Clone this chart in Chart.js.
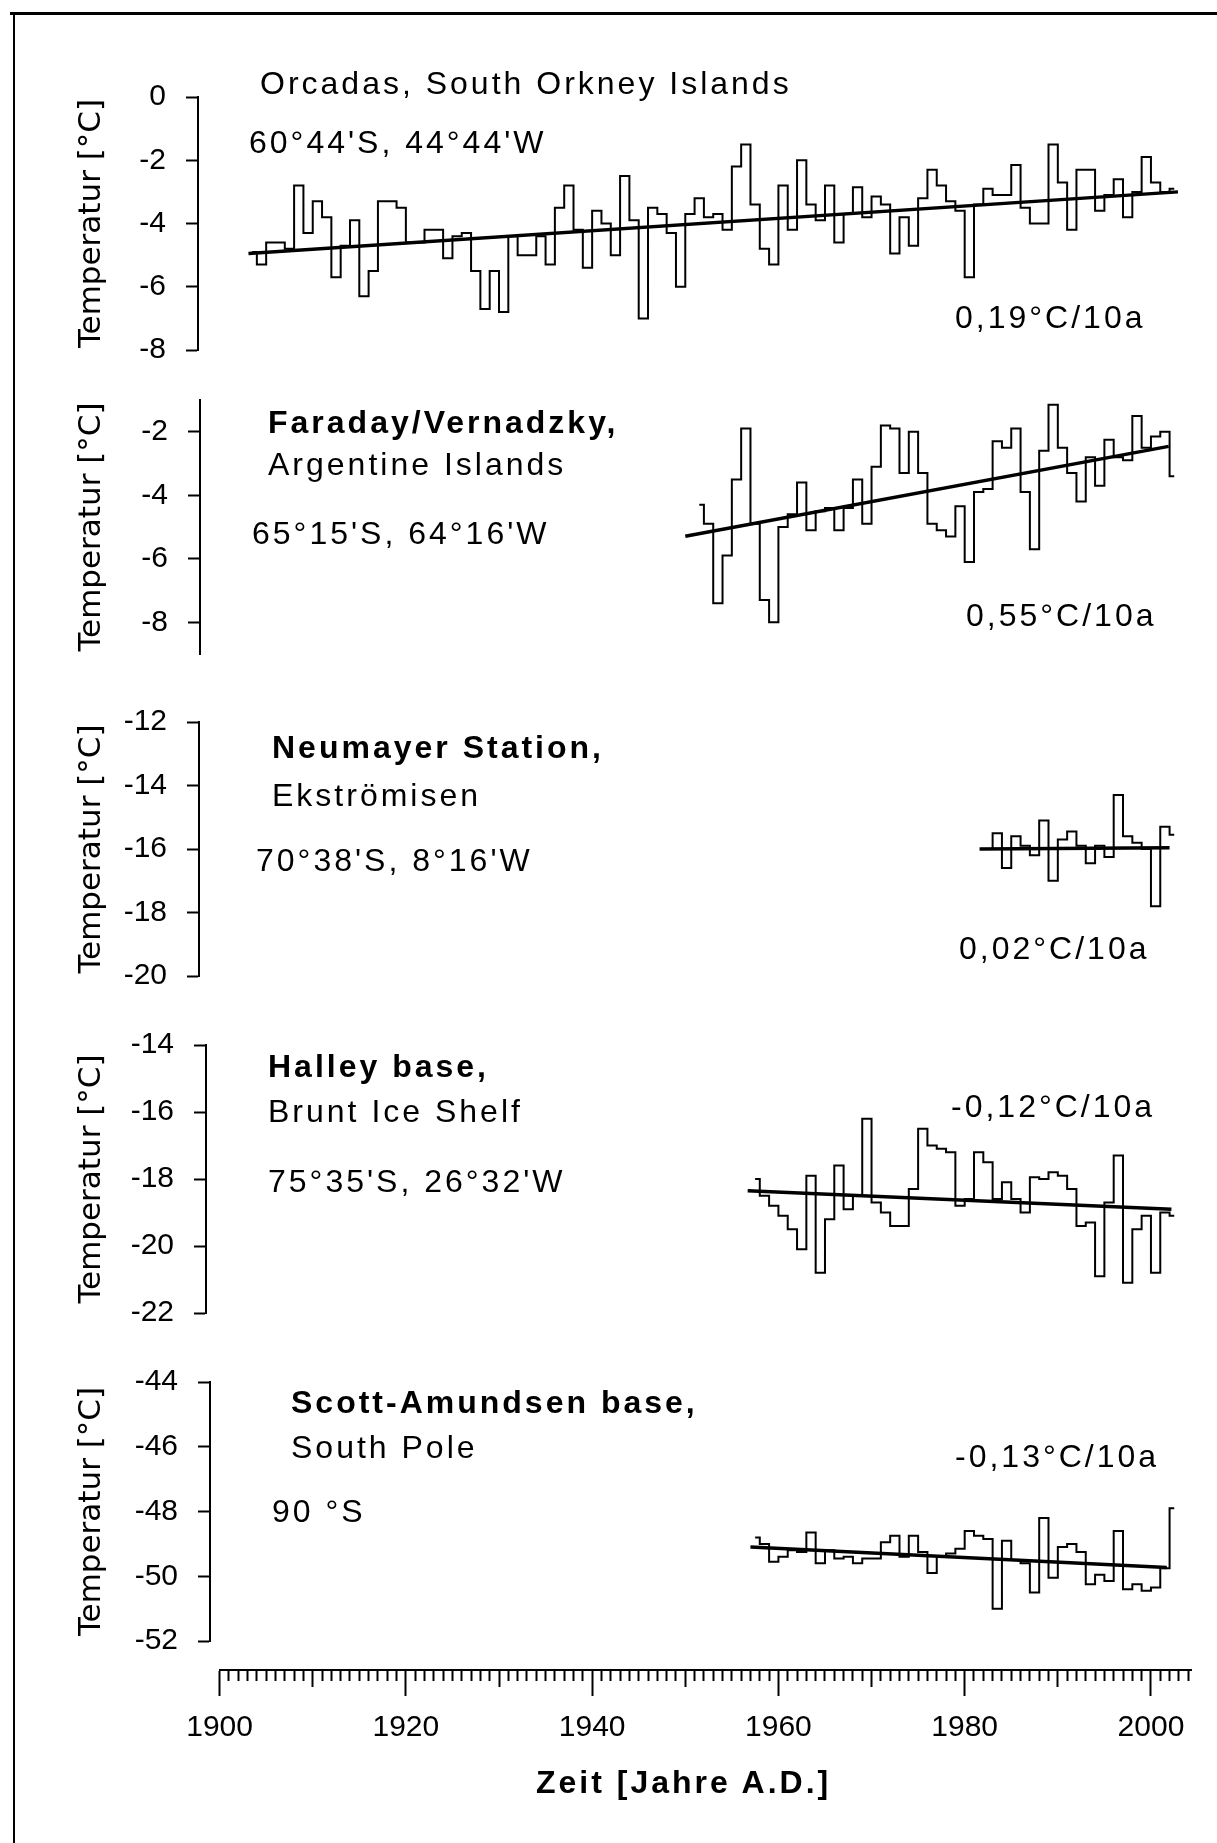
<!DOCTYPE html>
<html>
<head>
<meta charset="utf-8">
<script src="https://cdn.jsdelivr.net/npm/chart.js@4.4.1/dist/chart.umd.min.js"></script>
<style>
  html, body { margin: 0; padding: 0; background: #fff; }
  #page { position: relative; width: 1217px; height: 1843px; overflow: hidden; background: #fff;
          font-family: "Liberation Sans", Arial, Helvetica, sans-serif; color: #000; }
  #page canvas { position: absolute; left: 0; }
  .frame-top { position: absolute; left: 10px; top: 12px; width: 1207px; border-top: 3px solid #000; }
  .frame-left { position: absolute; left: 13px; top: 12px; height: 1831px; border-left: 2px solid #000; }
  .lbl { position: absolute; font-size: 32px; line-height: 32px; letter-spacing: 3px; white-space: nowrap; z-index: 2; }
  .b { font-weight: bold; }
</style>
</head>
<body>
<div id="page">
  <div class="frame-top"></div>
  <div class="frame-left"></div>

  <canvas id="orcadas" width="1217" height="293" style="top:77px"></canvas>
  <canvas id="faraday" width="1217" height="294" style="top:380px"></canvas>
  <canvas id="neumayer" width="1217" height="294" style="top:702px"></canvas>
  <canvas id="halley" width="1217" height="308" style="top:1025px"></canvas>
  <canvas id="scott" width="1217" height="299" style="top:1362px"></canvas>
  <canvas id="timeAxis" width="1217" height="193" style="top:1650px"></canvas>

  <div class="lbl" style="left:260px; top:67px">Orcadas, South Orkney Islands</div>
  <div class="lbl" style="left:249px; top:126px">60°44'S, 44°44'W</div>
  <div class="lbl" style="left:955px; top:301px">0,19°C/10a</div>

  <div class="lbl b" style="left:268px; top:406px">Faraday/Vernadzky,</div>
  <div class="lbl" style="left:268px; top:448px">Argentine Islands</div>
  <div class="lbl" style="left:252px; top:517px">65°15'S, 64°16'W</div>
  <div class="lbl" style="left:966px; top:599px">0,55°C/10a</div>

  <div class="lbl b" style="left:272px; top:731px">Neumayer Station,</div>
  <div class="lbl" style="left:272px; top:779px">Ekströmisen</div>
  <div class="lbl" style="left:256px; top:844px">70°38'S, 8°16'W</div>
  <div class="lbl" style="left:959px; top:932px">0,02°C/10a</div>

  <div class="lbl b" style="left:268px; top:1050px">Halley base,</div>
  <div class="lbl" style="left:268px; top:1095px">Brunt Ice Shelf</div>
  <div class="lbl" style="left:268px; top:1165px">75°35'S, 26°32'W</div>
  <div class="lbl" style="left:951px; top:1090px">-0,12°C/10a</div>

  <div class="lbl b" style="left:291px; top:1386px">Scott-Amundsen base,</div>
  <div class="lbl" style="left:291px; top:1431px">South Pole</div>
  <div class="lbl" style="left:272px; top:1495px">90 °S</div>
  <div class="lbl" style="left:955px; top:1440px">-0,13°C/10a</div>

  <div class="lbl b" style="left:536px; top:1766px">Zeit [Jahre A.D.]</div>
</div>

<script>
// annual mean temperatures (first year + one value per year)
const orcadasFirstYear = 1903;
const orcadasTemps = [
  -4.9, -5.3, -4.6, -4.6, -4.8, -2.8, -4.3, -3.3, -3.8, -5.7,
  -4.7, -3.9, -6.3, -5.5, -3.3, -3.3, -3.5, -4.6, -4.6, -4.2,
  -4.2, -5.1, -4.4, -4.3, -5.5, -6.7, -5.5, -6.8, -4.4, -5.0,
  -5.0, -4.4, -5.3, -3.5, -2.8, -4.2, -5.4, -3.6, -4.0, -5.0,
  -2.5, -3.9, -7.0, -3.5, -3.7, -4.3, -6.0, -3.7, -3.2, -3.8,
  -3.7, -4.2, -2.2, -1.5, -3.4, -4.8, -5.3, -2.8, -4.2, -2.0,
  -3.4, -3.9, -2.8, -4.6, -3.7, -2.85, -3.8, -3.15, -3.4, -4.95,
  -3.8, -4.7, -3.2, -2.3, -2.8, -3.3, -3.6, -5.7, -3.4, -2.9,
  -3.1, -3.1, -2.15, -3.5, -4.0, -4.0, -1.5, -2.7, -4.2, -2.3,
  -2.3, -3.6, -3.1, -2.6, -3.8, -3.0, -1.9, -2.7, -3.0, -2.9
];
const orcadasTrendYears = [1903.1, 2002.9];
const orcadasTrend = [-4.95, -3.0];
const orcadasTicks = [0, -2, -4, -6, -8];

const faradayFirstYear = 1951;
const faradayTemps = [
  -4.3, -4.9, -7.4, -5.9, -3.5, -1.9, -4.9, -7.3, -8.0, -5.0,
  -4.6, -3.6, -5.1, -4.5, -4.4, -5.1, -4.4, -3.5, -4.9, -3.1,
  -1.8, -1.9, -3.3, -2.0, -3.3, -4.9, -5.1, -5.3, -4.35, -6.1,
  -3.9, -3.8, -2.3, -2.5, -1.9, -3.9, -5.7, -2.6, -1.15, -2.5,
  -3.3, -4.2, -2.8, -3.7, -2.25, -2.8, -2.9, -1.5, -2.5, -2.15,
  -2.0, -3.4
];
const faradayTrendYears = [1950.0, 2001.9];
const faradayTrend = [-5.29, -2.46];
const faradayTicks = [-2, -4, -6, -8];

const neumayerFirstYear = 1982;
const neumayerTemps = [
  -16.0, -15.5, -16.6, -15.6, -15.9, -16.2, -15.1, -17.0, -15.7, -15.45,
  -15.9, -16.45, -15.9, -16.25, -14.3, -15.6, -15.8, -16.0, -17.8, -15.3,
  -15.55
];
const neumayerTrendYears = [1981.6, 2002.0];
const neumayerTrend = [-16.0, -15.96];
const neumayerTicks = [-12, -14, -16, -18, -20];

const halleyFirstYear = 1957;
const halleyTemps = [
  -18.0, -18.5, -18.8, -19.1, -19.5, -20.1, -17.9, -20.8, -19.2, -17.6,
  -18.9, -18.5, -16.2, -18.7, -19.0, -19.4, -19.4, -18.3, -16.5, -17.0,
  -17.1, -17.2, -18.8, -18.6, -17.2, -17.5, -18.6, -18.1, -18.6, -19.0,
  -17.95, -18.0, -17.8, -17.9, -18.3, -19.4, -19.3, -20.9, -18.7, -17.3,
  -21.1, -19.5, -19.1, -20.8, -19.0, -19.1
];
const halleyTrendYears = [1956.7, 2002.2];
const halleyTrend = [-18.35, -18.9];
const halleyTicks = [-14, -16, -18, -20, -22];

const scottFirstYear = 1957;
const scottTemps = [
  -48.8, -49.0, -49.55, -49.4, -49.2, -49.25, -48.65, -49.6, -49.2, -49.45,
  -49.4, -49.6, -49.45, -49.45, -48.95, -48.75, -49.4, -48.75, -49.25, -49.9,
  -49.4, -49.3, -49.15, -48.6, -48.75, -48.85, -51.0, -48.9, -49.5, -49.6,
  -50.5, -48.2, -50.05, -49.1, -49.0, -49.25, -50.25, -49.95, -50.15, -48.6,
  -50.4, -50.25, -50.45, -50.35, -49.75, -47.9
];
const scottTrendYears = [1957.0, 2001.7];
const scottTrend = [-49.1, -49.73];
const scottTicks = [-44, -46, -48, -50, -52];

const timeLabelEvery = 20;

// layout of the page (pixels)
const FONT = '"Liberation Sans", Arial, Helvetica, sans-serif';
const X1900 = 219.6;
const X_END = 1191;
const YEAR_END = 2004.3;
const PX_PER_YEAR = (X_END - X1900) / (YEAR_END - 1900);
const PAD = 20;

function stepPoints(firstYear, temps) {
  // annual means drawn around the middle of each year
  return temps.map((t, i) => ({ x: firstYear + i + 0.5, y: t }));
}

function trendPoints(years, temps) {
  return years.map((yr, i) => ({ x: yr, y: temps[i] }));
}

function createPanel(canvasId, firstYear, temps, trendYears, trend, ticks, yMin, yMax, axisX) {
  const canvas = document.getElementById(canvasId);
  if (!canvas) return null;
  const ctx = canvas.getContext("2d");

  return new Chart(ctx, {
    type: "line",
    data: {
      datasets: [
        {
          data: stepPoints(firstYear, temps),
          stepped: "middle",
          borderColor: "#000",
          borderWidth: 2,
          pointRadius: 0,
        },
        {
          data: trendPoints(trendYears, trend),
          borderColor: "#000",
          borderWidth: 3.5,
          pointRadius: 0,
        },
      ],
    },
    options: {
      responsive: false,
      animation: false,
      events: [],
      layout: { padding: { left: 0, right: 1217 - X_END, top: PAD, bottom: PAD } },
      plugins: { legend: { display: false }, tooltip: { enabled: false } },
      scales: {
        x: {
          type: "linear",
          min: 1900 - (X1900 - axisX) / PX_PER_YEAR,
          max: YEAR_END,
          display: false,
        },
        y: {
          min: yMin,
          max: yMax,
          afterFit: (scale) => {
            // fixed axis width, and keep the plot area exactly inside the padding
            scale.width = axisX;
            scale.paddingTop = 0;
            scale.paddingBottom = 0;
          },
          afterBuildTicks: (scale) => { scale.ticks = ticks.map((v) => ({ value: v })); },
          border: { display: true, color: "#000", width: 2 },
          grid: { drawOnChartArea: false, tickLength: 12, tickColor: "#000", tickWidth: 2 },
          ticks: { color: "#000", padding: 20, font: { family: FONT, size: 30 } },
          title: {
            display: true,
            text: "Temperatur [°C]",
            color: "#000",
            font: { family: '"DejaVu Sans", sans-serif', size: 31 },
            padding: { top: 73, bottom: 0 },
          },
        },
      },
    },
  });
}

createPanel("orcadas", orcadasFirstYear, orcadasTemps, orcadasTrendYears, orcadasTrend, orcadasTicks, -8, 0, 198);
createPanel("faraday", faradayFirstYear, faradayTemps, faradayTrendYears, faradayTrend, faradayTicks, -9, -1, 200);
createPanel("neumayer", neumayerFirstYear, neumayerTemps, neumayerTrendYears, neumayerTrend, neumayerTicks, -20, -12, 199);
createPanel("halley", halleyFirstYear, halleyTemps, halleyTrendYears, halleyTrend, halleyTicks, -22, -14, 206);
createPanel("scott", scottFirstYear, scottTemps, scottTrendYears, scottTrend, scottTicks, -52, -44, 210);

// shared time axis: a tick every year, longer ones every 10 and 20 years
function yearTickDash(year) {
  if (year % 20 === 0) return [];
  if (year % 10 === 0) return [16, 60];
  return [10, 60];
}

new Chart(document.getElementById("timeAxis").getContext("2d"), {
  type: "line",
  data: { datasets: [] },
  options: {
    responsive: false,
    animation: false,
    events: [],
    layout: { padding: { left: X1900, right: 1217 - X_END, top: 0, bottom: 0 } },
    plugins: { legend: { display: false }, tooltip: { enabled: false } },
    scales: {
      x: {
        type: "linear",
        min: 1900,
        max: YEAR_END,
        afterFit: (scale) => { scale.height = 173; },
        border: { display: true, color: "#000", width: 2 },
        grid: {
          drawOnChartArea: false,
          tickLength: 26,
          tickColor: "#000",
          tickWidth: 2,
          tickBorderDash: (c) => yearTickDash(c.tick ? c.tick.value : 1),
        },
        ticks: {
          stepSize: 1,
          autoSkip: false,
          includeBounds: false,
          maxRotation: 0,
          color: "#000",
          padding: 14,
          font: { family: FONT, size: 30 },
          callback: (v) => (v % timeLabelEvery === 0 ? String(v) : ""),
        },
      },
      y: { display: false, min: 0, max: 1 },
    },
  },
});
</script>
</body>
</html>
